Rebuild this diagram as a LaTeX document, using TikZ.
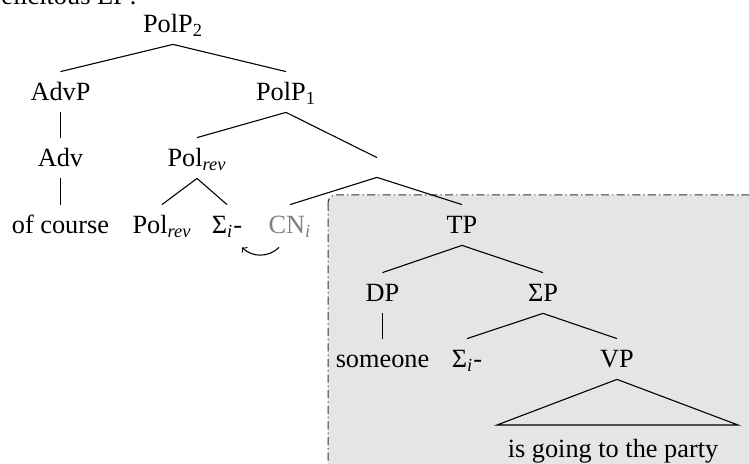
\documentclass[tikz,border=0pt]{standalone}
\usepackage{fontspec}
\setmainfont{Liberation Serif}
\usepackage{tikz}

\begin{document}
\begin{tikzpicture}[x=0.5pt, y=-0.5pt,
    cat/.style={anchor=base, inner sep=0pt, text height=14.5pt, text depth=5.5pt,
      font=\fontsize{13.15}{16}\selectfont},
    branch/.style={line width=0.55pt},
    cpbox/.style={draw=black!80, fill=gray!20, line width=0.5pt, rounded corners=4pt,
      dash pattern=on 4pt off 1.6pt on 0.6pt off 1.6pt}]
    \def \tsub #1{\textsubscript{\textit{#1}}}
    \useasboundingbox (0,0) rectangle (749,464);
    % shaded part of the tree
    \draw[cpbox] (328,195) rectangle (770,480);
    \node[anchor=base west, inner sep=0pt, font=\fontsize{13.15}{16}\selectfont]
      (heading) at (1,4.5) {elicitous EP?};
    % rows
    \node[cat] (polp2) at (173,33) {PolP\textsubscript{2}};
    \node[cat] (advp) at (60.5,101) {AdvP};
    \node[cat] (polp1) at (286,101) {PolP\textsubscript{1}};
    \node[cat] (adv) at (60.5,167) {Adv};
    \node[cat] (polrev) at (197,167) {Pol\tsub{rev}};
    \node[cat, text height=4.5pt, text depth=5pt] (xbar) at (377,167) {};
    \node[cat] (ofcourse) at (60.5,234) {of course};
    \node[cat] (polrevhead) at (162,234) {Pol\tsub{rev}};
    \node[cat] (sigmahead) at (227,234) {Σ\tsub{i}-};
    \node[cat, text=black!50] (cn) at (290,234) {CN\tsub{i}};
    \node[cat] (tp) at (462,234) {TP};
    \node[cat] (dp) at (382.5,302) {DP};
    \node[cat] (sigmap) at (543,302) {ΣP};
    \node[cat] (someone) at (382.5,368) {someone};
    \node[cat] (sigmalow) at (467,368) {Σ\tsub{i}-};
    \node[cat] (vp) at (617,368) {VP};
    \coordinate (vpleft) at (497,425);
    \coordinate (vpright) at (738,425);
    \node[cat] (party) at (613,457) {is going to the party};
    % branches
    \foreach \a/\b in {polp2/advp, polp2/polp1, advp/adv, adv/ofcourse, polp1/polrev,
      polp1/xbar, polrev/polrevhead, polrev/sigmahead, xbar/cn, xbar/tp,
      tp/dp, tp/sigmap, dp/someone, sigmap/sigmalow, sigmap/vp}
      \draw[branch] (\a.south) -- (\b.north);
    \draw[branch] (vp.south) -- (vpleft) -- (vpright) -- cycle;
    % movement
    \draw[->, line width=0.55pt] ([xshift=-5.5pt, yshift=-1pt]cn.south) to[bend left=45]
      ([xshift=7.5pt, yshift=-1pt]sigmahead.south);
\end{tikzpicture}
\end{document}
